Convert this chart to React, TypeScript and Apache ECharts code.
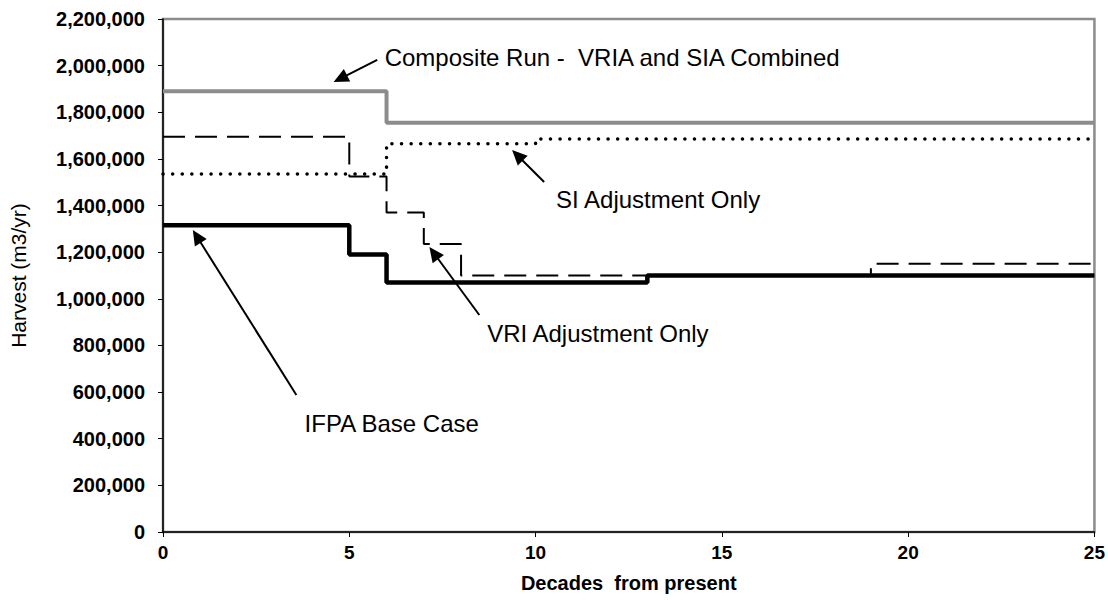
import React, { useEffect, useRef } from "react";
import * as echarts from "echarts";

// ---- Data ----
const xTicks = [0, 5, 10, 15, 20, 25];
const compositeRun: [number, number][] = [
  [0, 1890000],
  [6, 1755000],
  [25, 1755000],
];
const siAdjustment: [number, number][] = [
  [0, 1535000],
  [6, 1665000],
  [10, 1685000],
  [25, 1685000],
];
const vriAdjustment: [number, number][] = [
  [0, 1695000],
  [5, 1525000],
  [6, 1370000],
  [7, 1235000],
  [8, 1100000],
  [19, 1150000],
  [25, 1150000],
];
const ifpaBaseCase: [number, number][] = [
  [0, 1315000],
  [5, 1190000],
  [6, 1070000],
  [13, 1100000],
  [25, 1100000],
];

// annotations: label, text anchor, arrow tail, arrow tip (all in data units)
const annotationLabels = [
  "Composite Run -  VRIA and SIA Combined",
  "SI Adjustment Only",
  "VRI Adjustment Only",
  "IFPA Base Case",
];
const annotationText: [number, number][] = [
  [5.95, 2037000],
  [10.55, 1424000],
  [8.7, 853000],
  [3.8, 467000],
];
const annotationTail: [number, number][] = [
  [5.75, 2025000],
  [10.23, 1501000],
  [8.49, 930500],
  [3.58, 587500],
];
const annotationTip: [number, number][] = [
  [4.58, 1930000],
  [9.37, 1638000],
  [7.15, 1222000],
  [0.8, 1295000],
];

const FONT = "Liberation Sans, Arial, sans-serif";

export default function App() {
  const ref = useRef<HTMLDivElement>(null);

  useEffect(() => {
    if (!ref.current) return;
    const chart = echarts.init(ref.current, null, { renderer: "svg" });

    const option: any = {
      animation: false,
      backgroundColor: "#ffffff",
      grid: {
        left: 163,
        right: 12,
        top: 19,
        bottom: 68,
        show: true,
        borderColor: "#8c8c8c",
        borderWidth: 2.5,
        backgroundColor: "transparent",
      },
      xAxis: {
        type: "value",
        min: 0,
        max: 25,
        interval: 5,
        name: "Decades  from present",
        nameLocation: "middle",
        nameGap: 41,
        nameTextStyle: {
          fontFamily: FONT,
          fontSize: 20,
          fontWeight: "bold",
          color: "#000",
        },
        axisLine: { show: true, lineStyle: { color: "#000", width: 1.5 } },
        axisTick: { show: true, inside: false, length: 5, lineStyle: { color: "#000" } },
        splitLine: { show: false },
        axisLabel: {
          margin: 11,
          fontFamily: FONT,
          fontSize: 19,
          fontWeight: "bold",
          color: "#000",
          formatter: (v: number) => (xTicks.includes(v) ? String(v) : ""),
        },
      },
      yAxis: {
        type: "value",
        min: 0,
        max: 2200000,
        interval: 200000,
        name: "Harvest (m3/yr)",
        nameLocation: "middle",
        nameGap: 134,
        nameTextStyle: {
          fontFamily: FONT,
          fontSize: 21,
          color: "#000",
        },
        axisLine: { show: true, lineStyle: { color: "#000", width: 1.5 } },
        axisTick: { show: true, inside: false, length: 5, lineStyle: { color: "#000" } },
        splitLine: { show: false },
        axisLabel: {
          margin: 18,
          fontFamily: FONT,
          fontSize: 20,
          fontWeight: "bold",
          color: "#000",
          formatter: (v: number) => v.toLocaleString("en-US"),
        },
      },
      series: [
        {
          name: "Composite Run - VRIA and SIA Combined",
          type: "line",
          step: "end",
          data: compositeRun,
          symbol: "none",
          lineStyle: { color: "#8c8c8c", width: 4 },
          z: 2,
        },
        {
          name: "SI Adjustment Only",
          type: "line",
          step: "end",
          data: siAdjustment,
          symbol: "none",
          lineStyle: { color: "#000", width: 3.5, type: [0.1, 9.5], cap: "round" },
          z: 3,
        },
        {
          name: "VRI Adjustment Only",
          type: "line",
          step: "end",
          data: vriAdjustment,
          symbol: "none",
          lineStyle: { color: "#000", width: 2, type: [22, 10] },
          z: 4,
        },
        {
          name: "IFPA Base Case",
          type: "line",
          step: "end",
          data: ifpaBaseCase,
          symbol: "none",
          lineStyle: { color: "#000", width: 4.5 },
          z: 5,
        },
      ],
    };

    chart.setOption(option);

    const toPx = (p: [number, number]) =>
      chart.convertToPixel({ xAxisIndex: 0, yAxisIndex: 0 }, p) as number[];

    const elements: any[] = [];
    annotationLabels.forEach((label, i) => {
      const tail = toPx(annotationTail[i]);
      const tip = toPx(annotationTip[i]);
      const txt = toPx(annotationText[i]);
      const dx = tip[0] - tail[0];
      const dy = tip[1] - tail[1];
      const len = Math.sqrt(dx * dx + dy * dy);
      const ux = dx / len;
      const uy = dy / len;
      const headLen = 15;
      const headHalf = 7;
      const bx = tip[0] - ux * headLen;
      const by = tip[1] - uy * headLen;
      elements.push({
        type: "line",
        shape: { x1: tail[0], y1: tail[1], x2: bx + ux * 2, y2: by + uy * 2 },
        style: { stroke: "#000", lineWidth: 2 },
        z: 100,
      });
      elements.push({
        type: "polygon",
        shape: {
          points: [
            [tip[0], tip[1]],
            [bx - uy * headHalf, by + ux * headHalf],
            [bx + uy * headHalf, by - ux * headHalf],
          ],
        },
        style: { fill: "#000" },
        z: 100,
      });
      elements.push({
        type: "text",
        x: txt[0],
        y: txt[1],
        style: {
          text: label,
          fontFamily: FONT,
          fontSize: 24,
          fill: "#000",
          textAlign: "left",
          textVerticalAlign: "middle",
        },
        z: 100,
      });
    });

    chart.setOption({ graphic: { elements } });

    return () => {
      chart.dispose();
    };
  }, []);

  return (
    <div
      ref={ref}
      style={{ position: "fixed", left: 0, top: 0, width: 1108, height: 600, background: "#fff" }}
    />
  );
}
